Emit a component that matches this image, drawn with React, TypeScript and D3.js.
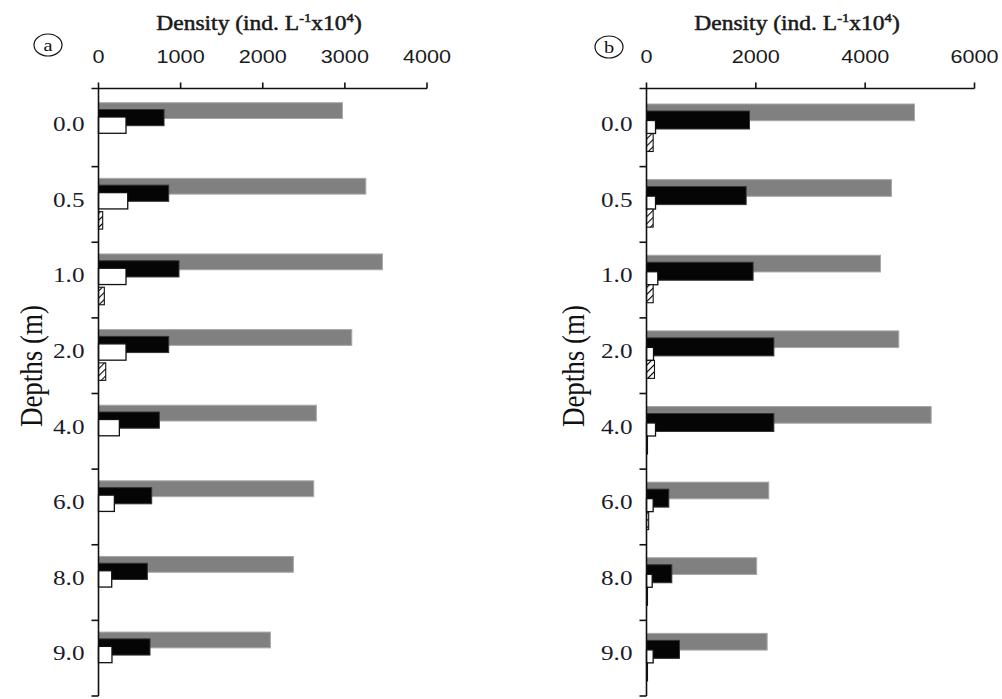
import React from "react";
import * as d3 from "d3";

const depths = ["0.0", "0.5", "1.0", "2.0", "4.0", "6.0", "8.0", "9.0"];

// Panel (a) densities (ind. L^-1 x10^4)
const aGray = [2970, 3255, 3457, 3084, 2653, 2621, 2373, 2093];
const aBlack = [798, 855, 980, 855, 741, 648, 595, 627];
const aWhite = [335, 356, 335, 335, 254, 193, 161, 164];
const aHatched = [0, 51, 71, 88, 0, 0, 0, 0];

// Panel (b) densities
const bGray = [4902, 4481, 4280, 4615, 5207, 2237, 2015, 2207];
const bBlack = [1884, 1823, 1950, 2330, 2330, 408, 463, 603];
const bWhite = [165, 165, 207, 128, 165, 122, 104, 122];
const bHatched = [122, 122, 122, 146, 12, 40, 12, 12];

const aTicks = [0, 1000, 2000, 3000, 4000];
const bTicks = [0, 2000, 4000, 6000];

const SX = 1.2; // horizontal stretch of the scanned figure

type SeriesStyle = { fill: string; stroke: string; sw: number; off: number; h: number };

type PanelProps = {
  letter: string;
  x0: number;
  x1: number;
  max: number;
  ticks: number[];
  series: number[][];
  styles: SeriesStyle[];
  titleX: number;
  circleX: number;
  circleY: number;
  labelX: number;
};

const AXIS_Y = 88.5;
const BAND_TOP = 91;
const BAND_BOTTOM = 696;

function Panel(p: PanelProps) {
  const x = d3.scaleLinear().domain([0, p.max]).range([p.x0, p.x1]);
  const y = d3.scaleBand<string>().domain(depths).range([BAND_TOP, BAND_BOTTOM]).paddingInner(0).paddingOuter(0);
  const bounds = depths.slice(1).map((d) => y(d) as number).concat([BAND_BOTTOM]);
  return (
    <g>
      {p.series.map((vals, si) =>
        vals.map((v, i) => {
          const st = p.styles[si];
          const w = x(v) - x(0);
          if (v <= 0) return null;
          return (
            <rect
              key={`${si}-${i}`}
              x={x(0)}
              y={(y(depths[i]) as number) + st.off}
              width={Math.max(w, 1)}
              height={st.h}
              fill={st.fill}
              stroke={st.stroke}
              strokeWidth={st.sw}
            />
          );
        })
      )}
      <line x1={p.x0 - 7} x2={p.x1} y1={AXIS_Y} y2={AXIS_Y} stroke="#111" strokeWidth={1.6} />
      {p.ticks.map((t) => (
        <g key={t}>
          <line x1={x(t)} x2={x(t)} y1={AXIS_Y - 6} y2={AXIS_Y} stroke="#111" strokeWidth={1.6} />
          <text
            transform={`translate(${x(t)},63) scale(${SX},1)`}
            textAnchor="middle"
            fontFamily="'Liberation Sans', Arial, sans-serif"
            fontSize={18}
            fill="#1a1a1a"
          >
            {t}
          </text>
        </g>
      ))}
      <line x1={p.x0} x2={p.x0} y1={AXIS_Y} y2={BAND_BOTTOM} stroke="#111" strokeWidth={1.6} />
      {bounds.map((b, i) => (
        <line key={i} x1={p.x0 - 7} x2={p.x0} y1={b} y2={b} stroke="#111" strokeWidth={1.6} />
      ))}
      {depths.map((d) => (
        <text
          key={d}
          transform={`translate(${p.x0 - 14},${(y(d) as number) + 40}) scale(${SX},1)`}
          textAnchor="end"
          fontFamily="'Liberation Serif', 'Times New Roman', serif"
          fontSize={21}
          fill="#1a1a2a"
        >
          {d}
        </text>
      ))}
      <text
        transform={`translate(${p.labelX},366) scale(${SX},1) rotate(-90)`}
        textAnchor="middle"
        fontFamily="'Liberation Serif', 'Times New Roman', serif"
        fontSize={27}
        fill="#111"
      >
        Depths (m)
      </text>
      <text
        transform={`translate(${p.titleX},30) scale(1.12,1)`}
        textAnchor="middle"
        fontFamily="'Liberation Serif', 'Times New Roman', serif"
        fontSize={21}
        fill="#1a1a1a"
        stroke="#1a1a1a"
        strokeWidth={0.5}
      >
        Density (ind. L
        <tspan fontSize={13} dy={-8}>-1</tspan>
        <tspan dy={8}>x10</tspan>
        <tspan fontSize={13} dy={-8}>4</tspan>
        <tspan dy={8}>)</tspan>
      </text>
      <ellipse cx={p.circleX} cy={p.circleY} rx={14} ry={11} fill="none" stroke="#111" strokeWidth={1.2} />
      <text
        transform={`translate(${p.circleX},${p.circleY + 5.5}) scale(${SX},1)`}
        textAnchor="middle"
        fontFamily="'Liberation Serif', 'Times New Roman', serif"
        fontSize={17}
        fill="#111"
      >
        {p.letter}
      </text>
    </g>
  );
}

const grayStyle = { fill: "#808080", stroke: "#a8a8a8", sw: 1 };
const blackStyle = { fill: "#050505", stroke: "#333", sw: 1 };
const whiteStyle = { fill: "#ffffff", stroke: "#111", sw: 1.3 };
const hatchStyle = { fill: "url(#hatch)", stroke: "#111", sw: 1.1 };

export default function App() {
  const aStyles: SeriesStyle[] = [
    { ...grayStyle, off: 11.7, h: 15.8 },
    { ...blackStyle, off: 18.5, h: 16.2 },
    { ...whiteStyle, off: 26, h: 16.3 },
    { ...hatchStyle, off: 45, h: 17.5 },
  ];
  const bStyles: SeriesStyle[] = [
    { ...grayStyle, off: 13, h: 16.7 },
    { ...blackStyle, off: 20, h: 18 },
    { ...whiteStyle, off: 29.5, h: 13 },
    { ...hatchStyle, off: 42.5, h: 18 },
  ];
  return (
    <svg width={1002} height={699} style={{ position: "absolute", left: 0, top: 0, background: "#fff" }}>
      <defs>
        <pattern id="hatch" width={5} height={5} patternUnits="userSpaceOnUse" patternTransform="rotate(45)">
          <rect width={5} height={5} fill="#fff" />
          <line x1={0} y1={0} x2={0} y2={5} stroke="#000" strokeWidth={2.2} />
        </pattern>
      </defs>
      <rect width={1002} height={699} fill="#fff" />
      <Panel
        letter="a"
        x0={98.5}
        x1={427}
        max={4000}
        ticks={aTicks}
        series={[aGray, aBlack, aWhite, aHatched]}
        styles={aStyles}
        titleX={259}
        circleX={48}
        circleY={45}
        labelX={42}
      />
      <Panel
        letter="b"
        x0={646.5}
        x1={974.5}
        max={6000}
        ticks={bTicks}
        series={[bGray, bBlack, bWhite, bHatched]}
        styles={bStyles}
        titleX={797}
        circleX={609}
        circleY={47}
        labelX={584}
      />
    </svg>
  );
}
